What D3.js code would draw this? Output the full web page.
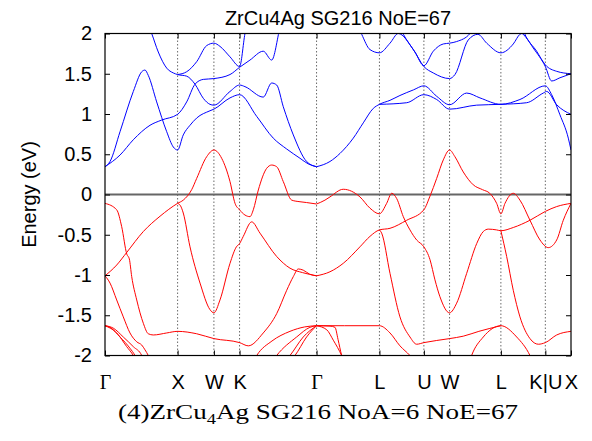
<!DOCTYPE html>
<html><head><meta charset="utf-8">
<script src="https://cdn.jsdelivr.net/npm/d3@7"></script>
<style>body{margin:0;background:#fff}</style>
</head><body>
<svg id="c" width="592" height="441"></svg>
<script>
// ---- data ----
const kTicks  = [0, 1, 1.5, 1.8536, 2.9142, 3.7802, 4.3926, 4.7462, 5.4533, 6.0657, 6.4192];
const kLabels = ["Γ","X","W","K","Γ","L","U","W","L","K|U","X"];
const yTicks  = [-2,-1.5,-1,-0.5,0,0.5,1,1.5,2];

// conduction bands (blue), [k, E(eV)]
const blue1 = [[0,0.345],[0.069,0.41],[0.207,0.78],[0.390,1.28],[0.506,1.525],[0.551,1.546],[0.596,1.48],[0.712,1.15],[0.850,0.78],[0.941,0.59],[1.0,0.553],
  [1.078,0.74],[1.171,0.86],[1.263,0.95],[1.446,1.04],[1.5,1.06],[1.722,1.20],[1.8536,1.24],[2.09,0.97],[2.318,0.70],[2.503,0.565],[2.686,0.45],[2.80,0.38],[2.9142,0.345]];
const blue2 = [[0,0.345],[0.207,0.49],[0.390,0.68],[0.620,0.86],[0.781,0.925],[1.0,0.996],[1.125,1.15],[1.240,1.37],[1.354,1.43],[1.5,1.44],
  [1.722,1.49],[1.8536,1.58],[1.997,1.67],[2.180,1.78],[2.296,1.67],[2.410,2.07],[2.45,2.2]];
const blue3 = [[0.60,2.1],[0.643,2.0],[0.734,1.77],[0.850,1.57],[0.941,1.51],[1.0,1.49],[1.125,1.47],[1.240,1.37],[1.354,1.195],[1.446,1.12],[1.5,1.11],
  [1.722,1.28],[1.8536,1.36],[1.928,1.34],[2.180,1.21],[2.296,1.385],[2.365,1.36],[2.456,1.09],[2.594,0.74],[2.777,0.41],[2.9142,0.345]];
const blue4 = [[1.0,1.49],[1.125,1.525],[1.263,1.65],[1.401,1.85],[1.5,1.88],[1.584,1.84],[1.722,1.71],[1.8536,1.59],[1.928,2.0],[1.96,2.15]];
const blue5 = [[2.9142,0.345],[3.099,0.41],[3.237,0.51],[3.420,0.70],[3.558,0.89],[3.696,1.07],[3.7802,1.12],[3.926,1.17],[4.063,1.23],[4.25,1.30],[4.3926,1.35],
  [4.569,1.22],[4.7462,1.115],[4.982,1.26],[5.165,1.20],[5.4533,1.12],[5.716,1.18],[6.0657,1.35],[6.153,1.24],[6.267,0.99],[6.382,0.70],[6.4192,0.553]];
const blue6 = [[3.7802,1.12],[4.156,1.14],[4.3926,1.24],[4.569,1.18],[4.7462,1.06],[5.120,1.11],[5.4533,1.12],[5.808,1.14],[6.037,1.26],[6.084,1.28],[6.222,1.115],[6.4192,0.996]];
const blue7 = [[3.50,2.06],[3.536,1.99],[3.650,1.80],[3.7802,1.76],[3.926,1.88],[4.04,2.0],[4.247,1.80],[4.3926,1.59],[4.522,1.51],[4.7462,1.44],[4.821,1.49],
  [5.004,1.92],[5.137,1.99],[5.258,1.88],[5.4533,1.76],[5.624,1.87],[5.716,1.99],[5.74,2.0],[5.80,1.95],[5.899,1.82],[6.0657,1.59],[6.153,1.41],[6.267,1.45],[6.4192,1.50]];
const blue8 = [[4.0,2.2],[4.11,1.99],[4.27,1.77],[4.3926,1.60],[4.522,1.78],[4.660,1.87],[4.7462,1.88],[4.844,1.90],[5.028,2.0],[5.07,2.1]];
const blue9 = [[5.72,2.15],[5.78,2.0],[5.946,1.78],[6.0657,1.61],[6.222,1.53],[6.4192,1.50]];

// valence bands (red), [k, E(eV)]
const red1 = [[0,-1.01],[0.161,-0.876],[0.299,-0.72],[0.528,-0.46],[0.758,-0.27],[1.0,-0.11],[1.078,-0.07],[1.194,0.06],[1.263,0.20],[1.401,0.47],[1.5,0.553],
  [1.607,0.45],[1.722,0.16],[1.791,-0.11],[1.8536,-0.19],[1.928,-0.255],[1.997,-0.275],[2.043,-0.19],[2.112,0.056],[2.227,0.325],[2.296,0.366],[2.365,0.345],
  [2.456,0.16],[2.572,-0.07],[2.686,-0.09],[2.777,-0.10],[2.9142,-0.118]];
const red2 = [[0,-0.11],[0.161,-0.19],[0.230,-0.40],[0.30,-0.74],[0.335,-0.80],[0.368,-1.02],[0.437,-1.31],[0.528,-1.60],[0.596,-1.73],[0.665,-1.745],[0.85,-1.72],
  [1.0,-1.70],[1.263,-1.73],[1.5,-1.79],[1.8536,-1.84],[1.974,-1.88],[2.180,-1.72],[2.365,-1.48],[2.503,-1.19],[2.594,-1.02],[2.663,-0.925],[2.731,-0.94],[2.82,-0.99],[2.9142,-1.01]];
const red3 = [[0,-1.01],[0.069,-1.10],[0.161,-1.31],[0.252,-1.52],[0.344,-1.72],[0.437,-1.83],[0.506,-1.87],[0.551,-1.93],[0.596,-2.0],[0.62,-2.05]];
const red4 = [[0,-1.63],[0.114,-1.66],[0.252,-1.77],[0.390,-1.89],[0.506,-2.0],[0.53,-2.05]];
const red5 = [[0,-1.63],[0.069,-1.65],[0.207,-1.77],[0.344,-1.91],[0.413,-2.0],[0.44,-2.05]];
const red6 = [[0,-1.63],[0.161,-1.72],[0.299,-1.89],[0.390,-2.0],[0.42,-2.05]];
const red7 = [[1.0,-0.11],[1.04,-0.14],[1.078,-0.23],[1.171,-0.65],[1.309,-1.10],[1.446,-1.43],[1.5,-1.47],[1.584,-1.31],[1.722,-0.855],[1.81,-0.65],[1.8536,-0.61],
  [1.905,-0.52],[2.021,-0.34],[2.135,-0.48],[2.365,-0.77],[2.548,-0.915],[2.72,-0.97],[2.9142,-1.01]];
const red8  = [[2.07,-2.03],[2.09,-2.0],[2.30,-1.82],[2.548,-1.70],[2.75,-1.645],[2.9142,-1.63]];
const red9  = [[2.34,-2.03],[2.365,-2.0],[2.640,-1.77],[2.823,-1.65],[2.9142,-1.63]];
const red10 = [[2.52,-2.03],[2.548,-2.0],[2.731,-1.77],[2.9142,-1.63]];
const red11 = [[2.59,-2.03],[2.617,-2.0],[2.777,-1.77],[2.9142,-1.63]];
const red12 = [[2.9142,-1.63],[3.3,-1.63],[3.7802,-1.63],[3.926,-1.72],[4.063,-1.88],[4.201,-2.0],[4.25,-2.05]];
const red13 = [[2.9142,-1.63],[3.10,-1.635],[3.168,-1.65],[3.21,-1.80],[3.26,-2.0],[3.28,-2.06]];
const red14 = [[2.9142,-1.63],[3.054,-1.68],[3.145,-1.81],[3.26,-2.0],[3.28,-2.04]];
const red15 = [[2.9142,-1.01],[3.099,-0.96],[3.282,-0.855],[3.512,-0.65],[3.650,-0.52],[3.7802,-0.44],[3.926,-0.42],[4.156,-0.32],[4.3926,-0.19],[4.477,-0.02],
  [4.569,0.2],[4.66,0.43],[4.7462,0.553],[4.82,0.47],[4.935,0.28],[5.073,0.12],[5.20,0.06],[5.30,0.015],[5.395,-0.11],[5.4533,-0.24],[5.510,-0.11],[5.624,0.015],
  [5.716,-0.07],[5.854,-0.32],[5.992,-0.565],[6.106,-0.66],[6.222,-0.565],[6.313,-0.32],[6.4192,-0.11]];
const red16 = [[2.9142,-0.118],[3.030,-0.07],[3.099,-0.03],[3.282,0.065],[3.512,-0.03],[3.650,-0.17],[3.7802,-0.24],[3.880,-0.11],[3.949,0.015],[4.018,-0.05],
  [4.109,-0.275],[4.201,-0.44],[4.293,-0.565],[4.3926,-0.65],[4.477,-0.81],[4.545,-1.06],[4.614,-1.27],[4.7462,-1.47],[4.844,-1.35],[4.982,-0.98],[5.120,-0.61],
  [5.211,-0.46],[5.280,-0.43],[5.395,-0.44],[5.4533,-0.45],[5.624,-0.41],[5.854,-0.32],[6.0657,-0.21],[6.222,-0.15],[6.4192,-0.11]];
const red17 = [[3.7802,-0.44],[3.811,-0.48],[3.926,-0.98],[4.063,-1.52],[4.201,-1.77],[4.293,-1.86],[4.3926,-1.84],[4.7462,-1.79],[4.935,-1.76],[5.15,-1.70],[5.4533,-1.63]];
const red18 = [[5.03,-2.05],[5.05,-2.0],[5.211,-1.77],[5.4533,-1.63],[5.671,-1.77],[5.854,-2.0],[5.88,-2.05]];
const red19 = [[5.4533,-0.45],[5.533,-0.77],[5.624,-1.19],[5.716,-1.52],[5.854,-1.79],[5.969,-1.86],[6.0657,-1.84],[6.222,-1.745],[6.4192,-1.70]];

const conduction = [blue1,blue2,blue3,blue4,blue5,blue6,blue7,blue8,blue9];
const valence = [red1,red2,red3,red4,red5,red6,red7,red8,red9,red10,red11,red12,red13,red14,red15,red16,red17,red18,red19];

// ---- drawing ----
const svg = d3.select("#c");
const L = 105, R = 571, T = 33.5, B = 355.5;
const x = d3.scaleLinear().domain([0, 6.4192]).range([L, R]);
const y = d3.scaleLinear().domain([-2, 2]).range([B, T]);
const sans = "'Liberation Sans', Arial, sans-serif";
const serif = "'Liberation Serif', 'Times New Roman', serif";

svg.append("defs").append("clipPath").attr("id","clip")
  .append("rect").attr("x",L).attr("y",T).attr("width",R-L).attr("height",B-T);

// vertical dotted lines
svg.append("g").selectAll("line").data(kTicks.slice(1,-1)).join("line")
  .attr("x1",d=>x(d)).attr("x2",d=>x(d)).attr("y1",T).attr("y2",B)
  .attr("stroke","#444").attr("stroke-width",0.8).attr("stroke-dasharray","1.5,2");

// zero line
svg.append("line").attr("x1",L).attr("x2",R).attr("y1",y(0)).attr("y2",y(0))
  .attr("stroke","#666").attr("stroke-width",1.8);

const line = d3.line().x(d=>x(d[0])).y(d=>y(d[1])).curve(d3.curveMonotoneX);
const g = svg.append("g").attr("clip-path","url(#clip)");
g.selectAll("path.v").data(valence).join("path").attr("class","v")
  .attr("d",line).attr("fill","none").attr("stroke","#ff0000").attr("stroke-width",1);
g.selectAll("path.c").data(conduction).join("path").attr("class","c")
  .attr("d",line).attr("fill","none").attr("stroke","#0000ff").attr("stroke-width",1);

// axes ticks
const yAxisL = d3.axisLeft(y).tickValues(yTicks).tickSize(-5).tickFormat(d=>String(d));
const gl = svg.append("g").attr("transform",`translate(${L},0)`).call(yAxisL);
gl.select(".domain").remove();
gl.selectAll("text").attr("font-family",sans).attr("font-size",20).attr("fill","#000").attr("x",-13);
const yAxisR = d3.axisRight(y).tickValues(yTicks).tickSize(-5).tickFormat("");
const gr = svg.append("g").attr("transform",`translate(${R},0)`).call(yAxisR);
gr.select(".domain").remove();
const xAxisB = d3.axisBottom(x).tickValues(kTicks).tickSize(-5).tickFormat((d,i)=>kLabels[i]);
const gb = svg.append("g").attr("transform",`translate(0,${B})`).call(xAxisB);
gb.select(".domain").remove();
gb.selectAll("text").attr("y",19).attr("font-size",20).attr("fill","#000")
  .attr("font-family",(d,i)=>kLabels[i]==="Γ"?serif:sans);
const xAxisT = d3.axisTop(x).tickValues(kTicks).tickSize(-5).tickFormat("");
const gt = svg.append("g").attr("transform",`translate(0,${T})`).call(xAxisT);
gt.select(".domain").remove();
svg.selectAll(".tick line").attr("stroke","#000");

// frame
svg.append("rect").attr("x",L).attr("y",T).attr("width",R-L).attr("height",B-T)
  .attr("fill","none").attr("stroke","#000").attr("stroke-width",1.2);

// title & labels
svg.append("text").attr("x",(L+R)/2).attr("y",25).attr("text-anchor","middle")
  .attr("font-family",sans).attr("font-size",20).text("ZrCu4Ag SG216 NoE=67");
svg.append("text").attr("transform",`translate(36,${(T+B)/2}) rotate(-90)`).attr("text-anchor","middle")
  .attr("font-family",sans).attr("font-size",20).text("Energy (eV)");
const cap = svg.append("text").attr("x",318).attr("y",419).attr("text-anchor","middle")
  .attr("font-family",serif).attr("font-size",22).attr("textLength",400).attr("lengthAdjust","spacingAndGlyphs");
cap.append("tspan").text("(4)ZrCu");
cap.append("tspan").attr("dy",5).attr("font-size",15).text("4");
cap.append("tspan").attr("dy",-5).text("Ag SG216 NoA=6 NoE=67");
</script>
</body></html>
